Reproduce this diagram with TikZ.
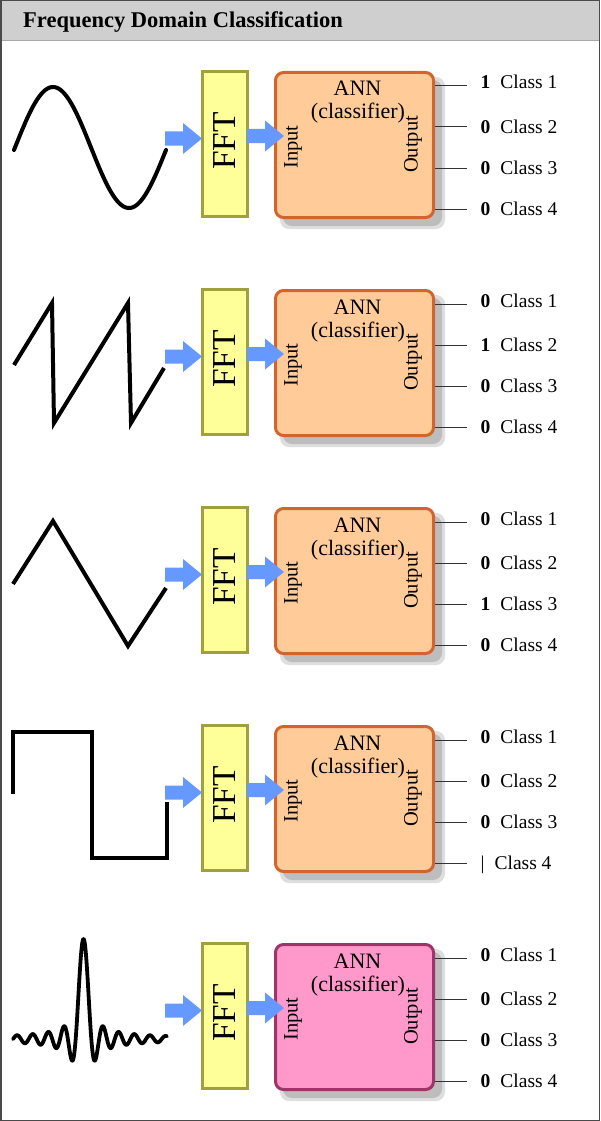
\documentclass[tikz,border=0pt]{standalone}
\usepackage{fontspec}
\setmainfont{Liberation Serif}
\usetikzlibrary{calc}
\definecolor{hdrfill}{HTML}{CFCFCF}
\definecolor{hdrline}{HTML}{A8A8A8}
\definecolor{framegray}{HTML}{4A4A4A}
\definecolor{fftfill}{HTML}{FFFF99}
\definecolor{fftborder}{HTML}{A0A03C}
\definecolor{annfill}{HTML}{FFCC99}
\definecolor{annborder}{HTML}{D2642E}
\definecolor{pinkfill}{HTML}{FF99CC}
\definecolor{pinkborder}{HTML}{9E3468}
\definecolor{shadowdark}{HTML}{BDBDBD}
\definecolor{shadowlight}{HTML}{DEDEDE}
\definecolor{arrowblue}{HTML}{6699FF}
\definecolor{linegray}{HTML}{333333}
\tikzset{
  fftbox/.style={draw=fftborder, fill=fftfill, line width=3pt, minimum width=45pt, minimum height=145pt, inner sep=0pt},
  annbox/.style={line width=3pt, rounded corners=8pt, minimum width=158pt, minimum height=145pt, inner sep=0pt},
  shadowbox/.style={rounded corners=9pt, inner sep=0pt},
  outline/.style={draw=linegray, line width=1pt},
  lbl/.style={font=\fontsize{19.5}{22}\selectfont, inner sep=0pt, anchor=base west},
  bodytext/.style={font=\fontsize{20.5}{23}\selectfont, inner sep=0pt},
  anntext/.style={font=\fontsize{22}{24}\selectfont, inner sep=0pt, anchor=base},
  ffttext/.style={font=\fontsize{33.5}{36}\selectfont, inner sep=0pt, rotate=90},
  wave/.style={draw=black, line width=4pt},
  blockarrow/.style={fill=arrowblue}
}
\newcommand\barrow[2]{%
  \fill[blockarrow] (#1,#2-7) -- ++(18,0) -- ++(0,-8.5) -- (#1+37,#2) -- (#1+18,#2+15.5) -- ++(0,-8.5) -- (#1,#2+7) -- cycle;}
% #1 index, #2 top, #3 fill, #4 border, #5-#8 output digits
\newcommand\annpanel[8]{%
  \node[shadowbox, fill=shadowlight, minimum width=165pt, minimum height=152pt] (shl#1) at (362.5,#2+83) {};
  \node[shadowbox, fill=shadowdark, minimum width=159pt, minimum height=146pt] (shd#1) at (362.5,#2+83) {};
  \node[fftbox] (fft#1) at (225,#2+74) {};
  \node[ffttext] (fftt#1) at (224.5,#2+71) {FFT};
  \coordinate (ola#1) at (434,#2+16);  \coordinate (ora#1) at (467,#2+16);
  \coordinate (olb#1) at (434,#2+57);  \coordinate (orb#1) at (467,#2+57);
  \coordinate (olc#1) at (434,#2+98);  \coordinate (orc#1) at (467,#2+98);
  \coordinate (old#1) at (434,#2+139); \coordinate (ord#1) at (467,#2+139);
  \draw[outline] (ola#1) -- (ora#1);
  \draw[outline] (olb#1) -- (orb#1);
  \draw[outline] (olc#1) -- (orc#1);
  \draw[outline] (old#1) -- (ord#1);
  \node[annbox, draw=#4, fill=#3] (ann#1) at (354.5,#2+75) {};
  \node[anntext] (annt#1) at (357.5,#2+26) {ANN};
  \node[anntext] (clst#1) at (358,#2+49) {(classifier)};
  \node[bodytext, rotate=90] (inp#1) at (293,#2+77) {Input};
  \node[bodytext, rotate=90] (outp#1) at (413,#2+74.5) {Output};
  \node[lbl] (ca#1) at (480.5,#2+19) {\textbf{#5}\hspace{10pt}Class 1};
  \node[lbl] (cb#1) at (480.5,#2+63) {\textbf{#6}\hspace{10pt}Class 2};
  \node[lbl] (cc#1) at (480.5,#2+104) {\textbf{#7}\hspace{10pt}Class 3};
  \node[lbl] (cd#1) at (480.5,#2+145) {\textbf{#8}\hspace{10pt}Class 4};
  \barrow{165}{#2+68.5}
  \barrow{247}{#2+66}
}
\begin{document}
\begin{tikzpicture}[x=1pt,y=-1pt]
\useasboundingbox (0,0) rectangle (600,1121);
\fill[white] (0,0) rectangle (600,1121);
% header
\fill[hdrfill] (0,0) rectangle (600,41);
\draw[hdrline, line width=1pt] (0,41) -- (600,41);
\node[anchor=base west, inner sep=0pt, font=\bfseries\fontsize{22.5}{26}\selectfont] (title) at (23,28) {Frequency Domain Classification};
% panels
\annpanel{1}{70}{annfill}{annborder}{1}{0}{0}{0}
\annpanel{2}{288}{annfill}{annborder}{0}{1}{0}{0}
\annpanel{3}{506}{annfill}{annborder}{0}{0}{1}{0}
\annpanel{4}{724}{annfill}{annborder}{0}{0}{0}{\mdseries|}
\annpanel{5}{942}{pinkfill}{pinkborder}{0}{0}{0}{0}
% waveforms
\draw[wave, line cap=round] plot[domain=14:166, samples=120] (\x, {147.5 - 60.5*cos(2.3684*(\x-53))});
\draw[wave] (14,365) -- (52,303) -- (54,423) -- (128,303) -- (131,423) -- (164,368);
\draw[wave] (13,584) -- (53,521) -- (128,646) -- (166,588);
\draw[wave, line width=3.5pt] (13,794) -- (13,732) -- (92,732) -- (92,858) -- (167,858) -- (167,802);
\draw[wave, line width=3.8pt, line join=round, line cap=round] plot[domain=-28.3:33.5, samples=500] ({83.5+2.49*\x}, {1039 - 100*sin(\x r)/\x});
% frame
\draw[framegray, line width=1.5pt] (0.75,0.75) rectangle (599.25,1120.25);
\end{tikzpicture}
\end{document}
